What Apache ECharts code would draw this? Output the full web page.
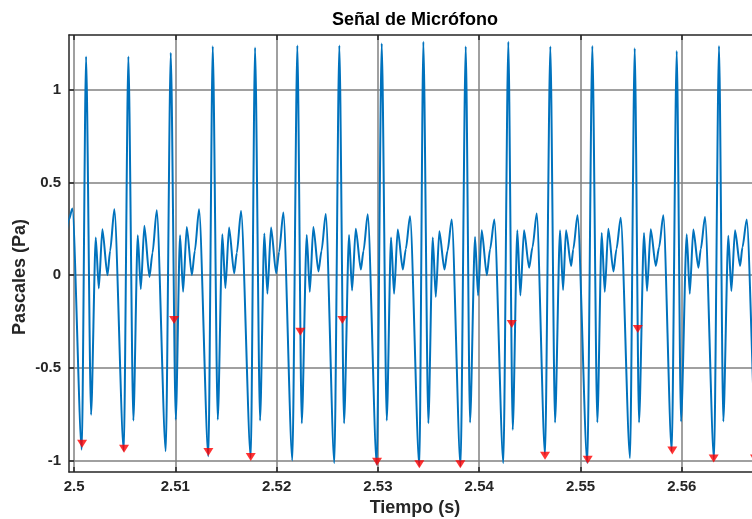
<!DOCTYPE html>
<html>
<head>
<meta charset="utf-8">
<script src="https://cdn.jsdelivr.net/npm/echarts@6/dist/echarts.min.js"></script>
<style>html,body{margin:0;padding:0;background:#fff}#c{width:752px;height:519px}</style>
</head>
<body>
<div id="c"></div>
<script>
// ---- data ----
const xTicks = [2.5, 2.51, 2.52, 2.53, 2.54, 2.55, 2.56];
const yTicks = [-1, -0.5, 0, 0.5, 1];

// signal features per cycle (time s, value Pa)
const edgeT = [2.4990, 2.4995];
const edgeV = [0.05, 0.30];
const deepMinT = [2.500760, 2.504906, 2.509053, 2.513258, 2.517444, 2.521551, 2.525697, 2.529883, 2.534088, 2.538155, 2.542381, 2.546497, 2.550673, 2.554888, 2.559005, 2.563181, 2.567376];
const deepMinV = [-0.942, -0.948, -0.951, -0.978, -0.985, -1.0, -1.014, -1.023, -1.03, -1.03, -1.014, -0.97, -1.014, -0.987, -0.95, -0.996, -0.99];
const peakT = [2.501185, 2.505361, 2.509546, 2.513692, 2.517868, 2.522044, 2.526190, 2.530376, 2.534484, 2.538669, 2.542874, 2.547021, 2.551167, 2.555352, 2.559499, 2.563674, 2.567850];
const peakV = [1.18, 1.18, 1.2, 1.235, 1.228, 1.24, 1.24, 1.25, 1.26, 1.234, 1.26, 1.234, 1.237, 1.225, 1.21, 1.237, 1.24];
const afterMinT = [2.501678, 2.505854, 2.510040, 2.514186, 2.518362, 2.522479, 2.526654, 2.530870, 2.534977, 2.539093, 2.543308, 2.547484, 2.551660, 2.555777, 2.559923, 2.564099];
const afterMinV = [-0.754, -0.785, -0.78, -0.78, -0.785, -0.8, -0.8, -0.785, -0.8, -0.795, -0.835, -0.795, -0.795, -0.795, -0.79, -0.79];
const bump1T = [2.502142, 2.506288, 2.510464, 2.514640, 2.518786, 2.522972, 2.527148, 2.531294, 2.535411, 2.539587, 2.543763, 2.547978, 2.552095, 2.556270, 2.560486, 2.564593];
const bump1V = [0.203, 0.215, 0.215, 0.22, 0.225, 0.217, 0.217, 0.203, 0.203, 0.206, 0.242, 0.242, 0.228, 0.228, 0.22, 0.212];
const dipAT = [2.502442, 2.506588, 2.510764, 2.514940, 2.519086, 2.523272, 2.527448, 2.531594, 2.535711, 2.539887, 2.544063, 2.548278, 2.552395, 2.556570, 2.560786, 2.564893];
const dipAV = [-0.072, -0.075, -0.09, -0.07, -0.1, -0.09, -0.083, -0.1, -0.117, -0.11, -0.11, -0.08, -0.09, -0.085, -0.1, -0.085];
const bump2T = [2.502794, 2.506940, 2.511126, 2.515302, 2.519448, 2.523624, 2.527810, 2.531956, 2.536063, 2.540248, 2.544424, 2.548570, 2.552746, 2.556932, 2.561138, 2.565254];
const bump2V = [0.248, 0.266, 0.26, 0.257, 0.257, 0.26, 0.251, 0.246, 0.237, 0.242, 0.242, 0.242, 0.251, 0.248, 0.246, 0.242];
const dipBT = [2.503297, 2.507443, 2.511629, 2.515805, 2.519951, 2.524127, 2.528313, 2.532459, 2.536566, 2.540751, 2.544927, 2.549073, 2.553249, 2.557435, 2.561641, 2.565757];
const dipBV = [0.0, -0.01, 0.0, 0.01, 0.01, 0.02, 0.03, 0.03, 0.03, 0.0, 0.04, 0.05, 0.02, 0.05, 0.04, 0.05];
const shoulderT = [2.503558, 2.507744, 2.511920, 2.516066, 2.520242, 2.524428, 2.528574, 2.532750, 2.536867, 2.541072, 2.545258, 2.549286, 2.553550, 2.557756, 2.561872, 2.565989];
const shoulderV = [0.13, 0.12, 0.13, 0.12, 0.125, 0.13, 0.13, 0.14, 0.13, 0.14, 0.15, 0.14, 0.14, 0.15, 0.14, 0.15];
const bump3T = [2.499832, 2.503978, 2.508164, 2.512340, 2.516486, 2.520662, 2.524848, 2.528994, 2.533170, 2.537287, 2.541492, 2.545678, 2.549706, 2.553970, 2.558176, 2.562292, 2.566409];
const bump3V = [0.359, 0.355, 0.35, 0.355, 0.346, 0.338, 0.33, 0.328, 0.318, 0.30, 0.30, 0.332, 0.323, 0.31, 0.323, 0.314, 0.30];

// detected minima markers
const markT = [2.500790, 2.504936, 2.509872, 2.513258, 2.517444, 2.522340, 2.526487, 2.529912, 2.534088, 2.538135, 2.543210, 2.546497, 2.550713, 2.555649, 2.559064, 2.563151, 2.567229];
const markV = [-0.91, -0.937, -0.242, -0.955, -0.982, -0.305, -0.242, -1.007, -1.021, -1.021, -0.264, -0.975, -0.996, -0.291, -0.946, -0.989, -0.99];

// ---- build series ----
function pairs(t, v) { return t.map((x, i) => [x, v[i]]); }
const signal = [].concat(
  pairs(edgeT, edgeV), pairs(deepMinT, deepMinV), pairs(peakT, peakV),
  pairs(afterMinT, afterMinV), pairs(bump1T, bump1V), pairs(dipAT, dipAV),
  pairs(bump2T, bump2V), pairs(dipBT, dipBV), pairs(shoulderT, shoulderV),
  pairs(bump3T, bump3V)
).sort((a, b) => a[0] - b[0]);
const markers = pairs(markT, markV);

const FONT = 'Liberation Sans, Arial, Helvetica, sans-serif';
const axisCol = '#262626';
const gridCol = '#808080';

const chart = echarts.init(document.getElementById('c'), null, {renderer: 'canvas'});
chart.setOption({
  animation: false,
  backgroundColor: '#ffffff',
  grid: {left: 69, top: 35, width: 692, height: 437, containLabel: false, outerBoundsMode: 'none'},
  graphic: [{
    type: 'text', x: 415, y: 20,
    style: {text: 'Señal de Micrófono', font: 'bold 18px ' + FONT, fill: '#000',
            align: 'center', verticalAlign: 'middle', textAlign: 'center', textVerticalAlign: 'middle'}
  }, {
    type: 'text', x: 20, y: 277, rotation: Math.PI / 2,
    style: {text: 'Pascales (Pa)', font: 'bold 18px ' + FONT, fill: axisCol,
            align: 'center', verticalAlign: 'middle', textAlign: 'center', textVerticalAlign: 'middle'}
  }],
  xAxis: [{
    type: 'value', position: 'bottom', min: 2.4995, max: 2.56782,
    axisLine: {show: true, onZero: false, lineStyle: {color: axisCol, width: 1.5}},
    axisTick: {show: true, inside: true, length: 5, customValues: xTicks, lineStyle: {color: axisCol, width: 1.5}},
    axisLabel: {customValues: xTicks, color: axisCol, fontSize: 15, fontWeight: 'bold', fontFamily: FONT, margin: 7,
                formatter: v => String(+v.toFixed(4))},
    splitLine: {show: true, lineStyle: {color: gridCol, width: 1.5}},
    name: 'Tiempo (s)', nameLocation: 'middle', nameGap: 26,
    nameTextStyle: {color: axisCol, fontSize: 18, fontWeight: 'bold', fontFamily: FONT}
  }, {
    type: 'value', position: 'top', min: 2.4995, max: 2.56782,
    axisLine: {show: true, onZero: false, lineStyle: {color: axisCol, width: 1.5}},
    axisTick: {show: true, inside: true, length: 5, customValues: xTicks, lineStyle: {color: axisCol, width: 1.5}},
    axisLabel: {show: false}, splitLine: {show: false}
  }],
  yAxis: [{
    type: 'value', min: -1.0625, max: 1.296,
    axisLine: {show: true, onZero: false, lineStyle: {color: axisCol, width: 1.5}},
    axisTick: {show: true, inside: true, length: 5, customValues: yTicks, lineStyle: {color: axisCol, width: 1.5}},
    axisLabel: {customValues: yTicks, color: axisCol, fontSize: 15, fontWeight: 'bold', fontFamily: FONT, margin: 8},
    splitLine: {show: true, lineStyle: {color: gridCol, width: 1.5}}
  }],
  series: [{
    type: 'line', data: signal, showSymbol: false, symbol: 'none',
    smooth: 0.25, smoothMonotone: 'x',
    lineStyle: {color: '#0072BD', width: 2}, z: 3
  }, {
    type: 'scatter', data: markers, symbol: 'triangle', symbolRotate: 180, symbolSize: [10, 8],
    itemStyle: {color: '#FF0000'}, z: 4
  }]
});
</script>
</body>
</html>
